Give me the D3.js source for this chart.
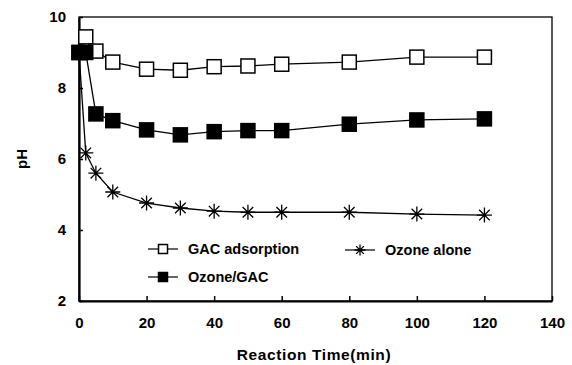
<!DOCTYPE html>
<html>
<head>
<meta charset="utf-8">
<script src="https://cdn.jsdelivr.net/npm/d3@7"></script>
<style>
  body { margin: 0; background: #fff; }
  text { font-family: "Liberation Sans", Arial, sans-serif; font-weight: bold; fill: #000; }
</style>
</head>
<body>
<div id="chart"></div>
<script>
const width = 572;
const height = 365;

const times = [0, 2, 5, 10, 20, 30, 40, 50, 60, 80, 100, 120];
const gacAdsorption = [9.0, 9.44, 9.04, 8.73, 8.53, 8.5, 8.6, 8.62, 8.67, 8.73, 8.87, 8.87];
const ozoneGac = [9.0, 9.0, 7.27, 7.08, 6.82, 6.68, 6.77, 6.8, 6.8, 6.98, 7.1, 7.13];
const ozoneAlone = [9.0, 6.17, 5.6, 5.07, 4.76, 4.62, 4.53, 4.5, 4.5, 4.5, 4.45, 4.42];

const xTicks = [0, 20, 40, 60, 80, 100, 120, 140];
const yTicks = [2, 4, 6, 8, 10];

const margin = { top: 17, right: 20, bottom: 64, left: 79 };

const svg = d3.select("#chart")
  .append("svg")
  .attr("width", width)
  .attr("height", height);

const x = d3.scaleLinear().domain([0, 140]).range([margin.left, width - margin.right]);
const y = d3.scaleLinear().domain([2, 10]).range([height - margin.bottom, margin.top]);

// frame
svg.append("rect")
  .attr("x", x(0))
  .attr("y", y(10))
  .attr("width", x(140) - x(0))
  .attr("height", y(2) - y(10))
  .attr("fill", "none")
  .attr("stroke", "#000")
  .attr("stroke-width", 1.3);

const xAxis = svg.append("g")
  .attr("transform", `translate(0,${y(2)})`)
  .call(d3.axisBottom(x).tickValues(xTicks).tickSizeInner(-5).tickSizeOuter(0).tickPadding(16));

const yAxis = svg.append("g")
  .attr("transform", `translate(${x(0)},0)`)
  .call(d3.axisLeft(y).tickValues(yTicks).tickSizeInner(-4).tickSizeOuter(0).tickPadding(13));

[xAxis, yAxis].forEach(ax => {
  ax.select(".domain").attr("stroke-width", 2.2);
  ax.selectAll(".tick line").attr("stroke-width", 1.5);
  ax.selectAll(".tick text")
    .attr("font-size", 15)
    .attr("font-family", "Liberation Sans, Arial, sans-serif")
    .attr("font-weight", "bold");
});

svg.append("text")
  .attr("transform", `translate(27,${(y(10) + y(2)) / 2}) rotate(-90)`)
  .attr("text-anchor", "middle")
  .attr("font-size", 15)
  .text("pH");

svg.append("text")
  .attr("x", 314)
  .attr("y", 360)
  .attr("text-anchor", "middle")
  .attr("font-size", 15.5)
  .attr("letter-spacing", 0.6)
  .text("Reaction Time(min)");

const line = d3.line()
  .x(d => x(d[0]))
  .y(d => y(d[1]));

function starPath(r) {
  let p = "";
  for (let i = 0; i < 4; i++) {
    const a = Math.PI / 2 + i * Math.PI / 4;
    p += `M${-r * Math.cos(a)},${-r * Math.sin(a)}L${r * Math.cos(a)},${r * Math.sin(a)}`;
  }
  return p;
}

function drawMarker(g, type, cx, cy, size) {
  if (type === "star") {
    g.append("path")
      .attr("d", starPath(size / 2))
      .attr("transform", `translate(${cx},${cy})`)
      .attr("stroke", "#000")
      .attr("stroke-width", 1.3)
      .attr("fill", "none");
  } else {
    g.append("rect")
      .attr("x", cx - size / 2)
      .attr("y", cy - size / 2)
      .attr("width", size)
      .attr("height", size)
      .attr("fill", type === "filled" ? "#000" : "#fff")
      .attr("stroke", "#000")
      .attr("stroke-width", 1.5);
  }
}

const series = [
  { name: "Ozone alone", values: ozoneAlone, type: "star", size: 15 },
  { name: "GAC adsorption", values: gacAdsorption, type: "open", size: 14 },
  { name: "Ozone/GAC", values: ozoneGac, type: "filled", size: 14 },
];

series.forEach(s => {
  const pts = times.map((t, i) => [t, s.values[i]]);
  svg.append("path")
    .attr("d", line(pts))
    .attr("fill", "none")
    .attr("stroke", "#000")
    .attr("stroke-width", 1.3);
  const g = svg.append("g");
  pts.forEach(p => drawMarker(g, s.type, x(p[0]), y(p[1]), s.size));
});

// legend
const legendItems = [
  { name: "GAC adsorption", type: "open", lx: 163, ly: 249 },
  { name: "Ozone/GAC", type: "filled", lx: 163, ly: 277 },
  { name: "Ozone alone", type: "star", lx: 360, ly: 250 },
];

legendItems.forEach(item => {
  const g = svg.append("g");
  g.append("line")
    .attr("x1", item.lx - 15).attr("x2", item.lx + 15)
    .attr("y1", item.ly).attr("y2", item.ly)
    .attr("stroke", "#000").attr("stroke-width", 1.2);
  drawMarker(g, item.type, item.lx, item.ly, item.type === "star" ? 11 : 9);
  g.append("text")
    .attr("x", item.lx + 25)
    .attr("y", item.ly + 5)
    .attr("font-size", 14.5)
    .text(item.name);
});
</script>
</body>
</html>
